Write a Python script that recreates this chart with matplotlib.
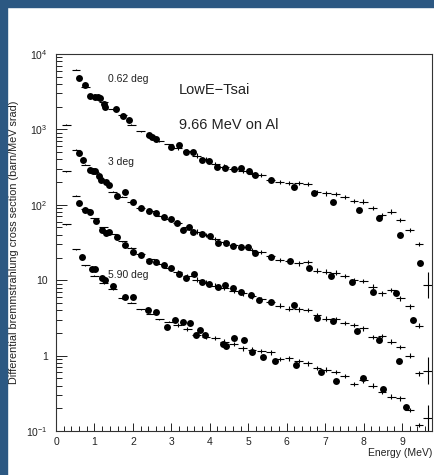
import numpy as np
import matplotlib.pyplot as plt
from matplotlib.patches import Rectangle
from matplotlib.ticker import FixedLocator, MultipleLocator, NullFormatter

plt.rcParams['font.family'] = ['Liberation Sans', 'DejaVu Sans']
plt.rcParams['mathtext.fontset'] = 'custom'
plt.rcParams['mathtext.rm'] = 'Liberation Sans'
plt.rcParams['mathtext.it'] = 'Liberation Sans'

# simulation bins (energy in MeV)
sim_e = [0.27, 0.52, 0.76, 1.00, 1.24, 1.48, 1.72, 1.96, 2.20, 2.45, 2.69, 2.93, 3.17, 3.41,
         3.66, 3.90, 4.14, 4.38, 4.62, 4.86, 5.10, 5.34, 5.58, 5.82, 6.06, 6.31, 6.55, 6.79,
         7.03, 7.27, 7.51, 7.75, 7.99, 8.24, 8.48, 8.72, 8.96, 9.20, 9.44, 9.67]
sim_062 = [1150, 6200, 3650, 2900, 2300, 1850, 1550, 1150, 950, 820, 700, 640, 570, 510,
           450, 400, 350, 320, 300, 285, 260, 250, 215, 202, 193, 193, 190, 147,
           142, 139, 126, 113, 110, 90, 73, 81, 63, 46, 30, 8.6]
sim_3 = [280, 540, 340, 275, 215, 150, 128, 108, 92, 82, 72, 65, 57, 50,
         44, 40, 35, 32, 29, 27.5, 25, 23.5, 21, 18.5, 18, 16.7, 17.3, 13.4,
         13, 12.6, 11.4, 10, 9.8, 8.2, 6.7, 7.4, 5.75, 4.5, 2.5, 0.63]
sim_c3 = [55.6, 131, 88, 66, 50, 41, 33, 27, 22.5, 19, 16.5, 14.5, 12.8, 11.3,
          10.2, 9.3, 8.5, 7.9, 7.3, 6.7, 6.1, 5.6, 5.1, 4.6, 4.2, 4.1, 4.0, 3.45,
          3.1, 3.05, 2.7, 2.55, 2.3, 1.78, 1.82, 1.53, 1.31, 1.0, 0.58, 0.147]
sim_590 = [np.nan, 25.7, 15.9, 11.4, 9.1, 7.6, 5.8, 5.0, 4.1, 3.6, 3.05, 2.8, 2.55, 2.25,
           1.9, 1.78, 1.7, 1.53, 1.43, 1.25, 1.2, 1.16, 1.1, 0.9, 0.92, 0.85, 0.79, 0.68,
           0.65, 0.61, 0.54, 0.42, 0.47, 0.4, 0.33, 0.285, 0.27, 0.19, 0.12, np.nan]

# measured points
e_062 = [0.59, 0.755, 0.89, 1.02, 1.08, 1.14, 1.24, 1.28, 1.55, 1.74, 1.91, 2.41, 2.50, 2.59,
         2.99, 3.19, 3.39, 3.56, 3.79, 3.99, 4.19, 4.40, 4.62, 4.80, 5.03, 5.18, 5.58, 6.20,
         6.70, 7.20, 7.89, 8.39, 8.94, 9.48]
d_062 = [4760, 3880, 2800, 2720, 2670, 2590, 2170, 1960, 1860, 1490, 1330, 836, 785, 746,
         579, 627, 506, 506, 393, 385, 320, 305, 299, 305, 281, 248, 213, 174,
         142, 110, 85, 66, 40, 17]
e_3 = [0.59, 0.695, 0.89, 0.97, 1.02, 1.11, 1.17, 1.30, 1.39, 1.59, 1.80, 2.00, 2.21, 2.41,
       2.59, 2.80, 2.99, 3.14, 3.30, 3.45, 3.56, 3.79, 4.01, 4.21, 4.41, 4.60, 4.80, 4.99,
       5.18, 5.59, 6.09, 6.59, 7.14, 7.70, 8.24, 8.84, 9.29]
d_3 = [482, 393, 290, 285, 280, 243, 213, 202, 183, 131, 147, 110, 90, 83,
       79, 68, 64, 57, 46, 51, 43, 41, 38, 31, 31, 28.7, 27.3, 27.5,
       23.2, 20.1, 18, 14.4, 11.5, 9.4, 7.0, 6.7, 3.0]
e_c3 = [0.59, 0.755, 0.89, 1.04, 1.20, 1.30, 1.39, 1.59, 1.80, 2.00, 2.21, 2.41, 2.59, 2.80,
        2.99, 3.19, 3.39, 3.58, 3.79, 3.99, 4.21, 4.40, 4.60, 4.80, 5.08, 5.29, 5.59, 6.20,
        6.79, 7.20, 7.83, 8.39, 8.93]
d_c3 = [107, 85, 81, 61.5, 47, 42, 44, 37, 29.3, 23.9, 21.6, 18.2, 17.3, 15.8,
        14.4, 12, 10.6, 12, 9.5, 8.9, 8.1, 8.6, 7.8, 7.0, 6.4, 5.5, 5.1, 4.7,
        3.2, 2.9, 2.1, 1.6, 0.86]
e_590 = [0.68, 0.93, 1.02, 1.19, 1.28, 1.49, 1.80, 1.99, 2.39, 2.60, 2.89, 3.10, 3.30, 3.49,
         3.64, 3.74, 3.88, 4.34, 4.43, 4.64, 4.90, 5.10, 5.38, 5.69, 6.25, 6.88, 7.29, 7.99,
         8.50, 9.10]
d_590 = [20.5, 14.1, 14.1, 10.6, 10.1, 8.4, 5.9, 5.9, 4.0, 3.8, 2.4, 2.97, 2.8, 2.7,
         1.9, 2.2, 1.9, 1.41, 1.34, 1.73, 1.6, 1.1, 0.95, 0.85, 0.75, 0.61, 0.46, 0.5,
         0.36, 0.21]

ink = '#222222'

fig = plt.figure(figsize=(4.34, 4.75), dpi=100)
fig.patches.append(Rectangle((0, 1 - 7 / 475), 1, 7 / 475, transform=fig.transFigure,
                             color='#2c5882', zorder=0))
fig.patches.append(Rectangle((0, 0), 7 / 434, 1, transform=fig.transFigure,
                             color='#2c5882', zorder=0))

ax = fig.add_axes([56 / 434, 44 / 475, 376 / 434, 377 / 475])

x = np.array(sim_e)
rel = np.where(x < 3, 0.015, 0.07)
rel[-1] = 0.5
for sim in [sim_062, sim_3, sim_c3, sim_590]:
    y = np.array(sim)
    yerr = [y * (1 - 1 / (1 + rel)), y * rel]
    ax.errorbar(x, y, xerr=0.115, yerr=yerr, fmt='none', ecolor='black',
                elinewidth=0.8, capsize=0)

for e, d in [(e_062, d_062), (e_3, d_3), (e_c3, d_c3), (e_590, d_590)]:
    ax.plot(e, d, 'o', color='black', ms=5, mew=0)

ax.set_yscale('log')
ax.set_xlim(0, 9.78)
ax.set_ylim(0.1, 1e4)

ax.xaxis.set_major_locator(MultipleLocator(1))
ax.xaxis.set_minor_locator(MultipleLocator(0.2))
ax.yaxis.set_major_locator(FixedLocator([0.1, 1, 10, 100, 1000, 10000]))
ax.yaxis.set_minor_locator(FixedLocator([m * 10.0 ** k for k in range(-1, 4) for m in range(2, 10)]))
ax.yaxis.set_minor_formatter(NullFormatter())
ax.set_yticklabels(['$10^{-1}$', '1', '10', '$10^{2}$', '$10^{3}$', '$10^{4}$'])
ax.tick_params(which='both', direction='in', top=False, right=False, colors=ink,
               labelsize=7.5, width=0.7)
ax.tick_params(axis='x', which='major', length=6, pad=4)
ax.tick_params(axis='x', which='minor', length=3.5)
ax.tick_params(axis='y', which='major', length=8, pad=6)
ax.tick_params(axis='y', which='minor', length=4.5)
for s in ax.spines.values():
    s.set_linewidth(0.8)
    s.set_color('#333333')

ax.set_ylabel('Differential bremmstrahlung cross section (barn/MeV srad)', fontsize=7.8, color=ink)
ax.yaxis.set_label_coords(-0.098, 0.5)
ax.text(1.0, -0.058, 'Energy (MeV)', transform=ax.transAxes, ha='right', va='center',
        fontsize=7.5, color=ink)

ax.text(0.138, 0.934, '0.62 deg', transform=ax.transAxes, va='center', fontsize=7.5, color=ink)
ax.text(0.138, 0.714, '3 deg', transform=ax.transAxes, va='center', fontsize=7.5, color=ink)
ax.text(0.138, 0.414, '5.90 deg', transform=ax.transAxes, va='center', fontsize=7.5, color=ink)
ax.text(0.327, 0.905, 'LowE\u2212Tsai', transform=ax.transAxes, va='center', fontsize=10.5, color=ink)
ax.text(0.327, 0.812, '9.66 MeV on Al', transform=ax.transAxes, va='center', fontsize=10.5, color=ink)

fig.savefig('out.png', dpi=100)
